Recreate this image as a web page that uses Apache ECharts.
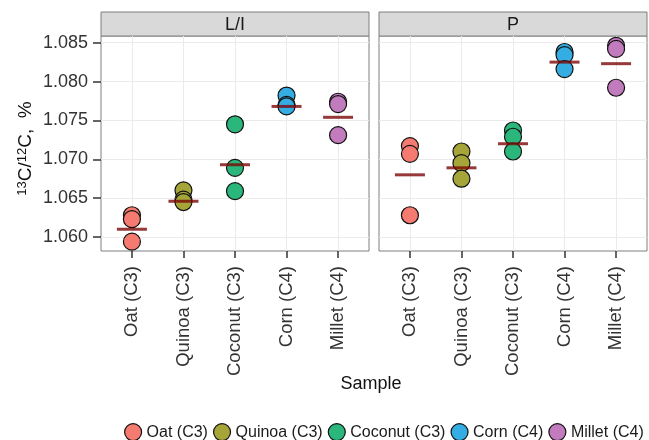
<!DOCTYPE html>
<html lang="en">
<head>
    <meta charset="UTF-8">
    <title>13C/12C by sample</title>
    <script src="https://cdn.jsdelivr.net/npm/echarts@6/dist/echarts.min.js"></script>
</head>

<style>
    body {
        margin: 0;
        background: #fff;
    }
    .chart {
        width: 649px;
        height: 440px;
    }
</style>

<body>
<div id="chart" class="chart"></div>

<script>
    // samples (x axis)
    let categories = ['Oat (C3)', 'Quinoa (C3)', 'Coconut (C3)', 'Corn (C4)', 'Millet (C4)']
    let colors = ['#f57a70', '#a5a53a', '#2bb77c', '#34ade2', '#c27bbd']
    let panels = ['L/I', 'P']
    let yTicks = [1.060, 1.065, 1.070, 1.075, 1.080, 1.085]

    // L/I panel, one list per sample
    let liOat = [1.0628, 1.0623, 1.0594]
    let liQuinoa = [1.0660, 1.0648, 1.0645]
    let liCoconut = [1.0745, 1.0689, 1.0659]
    let liCorn = [1.0782, 1.0770, 1.0768]
    let liMillet = [1.0774, 1.0771, 1.0731]
    let liMeans = [1.0610, 1.0646, 1.0693, 1.0768, 1.0754]

    // P panel
    let pOat = [1.0717, 1.0707, 1.0628]
    let pQuinoa = [1.0710, 1.0695, 1.0675]
    let pCoconut = [1.0737, 1.0729, 1.0710]
    let pCorn = [1.0838, 1.0834, 1.0816]
    let pMillet = [1.0846, 1.0842, 1.0792]
    let pMeans = [1.0680, 1.0689, 1.0720, 1.0825, 1.0823]

    let panelValues = [
        [liOat, liQuinoa, liCoconut, liCorn, liMillet],
        [pOat, pQuinoa, pCoconut, pCorn, pMillet]
    ]
    let panelMeans = [liMeans, pMeans]

    let catIdx = categories.map(function (c, i) { return i })
    let gridLeft = [101, 379]
    let gridWidth = 268

    let grids = [], xAxes = [], yAxes = [], series = [], graphics = []
    for (let p = 0; p < panels.length; p++) {
        grids.push({
            left: gridLeft[p], top: 36, width: gridWidth, height: 215,
            show: true, borderColor: '#7f7f7f', borderWidth: 1, backgroundColor: '#fff'
        })
        xAxes.push({
            type: 'value', gridIndex: p, min: -0.6, max: 4.6,
            axisLine: {show: false, onZero: false},
            axisTick: {show: true, length: 7, customValues: catIdx, lineStyle: {color: '#333', width: 1.5}},
            axisLabel: {
                customValues: catIdx, rotate: 90, margin: 15,
                fontFamily: 'Liberation Sans', fontSize: 18.5, color: '#333',
                formatter: function (v) { return categories[Math.round(v)] }
            },
            splitLine: {show: true, lineStyle: {color: '#ebebeb'}}
        })
        yAxes.push({
            type: 'value', gridIndex: p, min: 1.0582, max: 1.08586,
            axisLine: {show: false, onZero: false},
            axisTick: {show: p === 0, length: 8, customValues: yTicks, lineStyle: {color: '#333', width: 1.5}},
            axisLabel: {
                show: p === 0, customValues: yTicks, margin: 13,
                fontFamily: 'Liberation Sans', fontSize: 18, color: '#333',
                formatter: function (v) { return v.toFixed(3) }
            },
            splitLine: {show: true, lineStyle: {color: '#ebebeb'}},
            name: p === 0 ? '{sup|13}C/{sup|12}C,  %' : '',
            nameLocation: 'middle', nameRotate: 90, nameGap: 66,
            nameTextStyle: {
                fontFamily: 'Liberation Sans', fontSize: 19, color: '#111',
                padding: [0, 10, 0, 0],
                rich: {sup: {fontSize: 13, verticalAlign: 'top', fontFamily: 'Liberation Sans', color: '#111'}}
            }
        })

        for (let c = 0; c < categories.length; c++) {
            series.push({
                name: categories[c],
                type: 'scatter',
                xAxisIndex: p, yAxisIndex: p,
                symbol: 'circle', symbolSize: 17,
                itemStyle: {color: colors[c], borderColor: '#111', borderWidth: 1.2, opacity: 1},
                data: panelValues[p][c].map(function (v) { return [c, v] }),
                z: 3
            })
        }
        series.push({
            name: 'mean',
            type: 'scatter',
            xAxisIndex: p, yAxisIndex: p,
            symbol: 'rect', symbolSize: [30, 3],
            itemStyle: {color: '#7a0808'},
            data: panelMeans[p].map(function (v, i) { return [i, v] }),
            z: 4
        })

        // facet strip
        graphics.push({
            type: 'rect',
            shape: {x: gridLeft[p], y: 12, width: gridWidth, height: 24},
            style: {fill: '#d9d9d9', stroke: '#7f7f7f', lineWidth: 1}
        })
        graphics.push({
            type: 'text',
            x: gridLeft[p] + gridWidth / 2, y: 25,
            style: {
                text: panels[p], fontFamily: 'Liberation Sans', fontSize: 18, fill: '#1a1a1a',
                align: 'center', verticalAlign: 'middle'
            }
        })
    }

    graphics.push({
        type: 'text',
        x: 371, y: 384,
        style: {
            text: 'Sample', fontFamily: 'Liberation Sans', fontSize: 18, fill: '#111',
            align: 'center', verticalAlign: 'middle'
        }
    })

    option = {
        animation: false,
        grid: grids,
        xAxis: xAxes,
        yAxis: yAxes,
        legend: {
            data: categories,
            left: 124, top: 423, width: 525, padding: 0,
            icon: 'circle',
            itemWidth: 17, itemHeight: 17,
            itemGap: 5, itemTextGap: 1,
            itemStyle: {borderColor: '#111', borderWidth: 1.2},
            textStyle: {fontFamily: 'Liberation Sans', fontSize: 16, color: '#1a1a1a'}
        },
        graphic: graphics,
        series: series
    }

    let chart = echarts.init(document.getElementById('chart'))
    chart.setOption(option)
</script>
</body>
</html>
